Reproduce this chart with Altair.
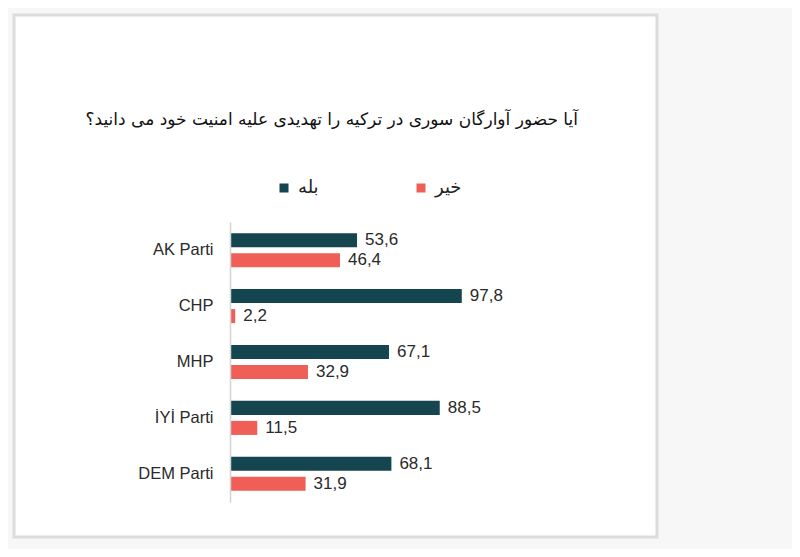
import altair as alt
import pandas as pd

parties = ["AK Parti", "CHP", "MHP", "İYİ Parti", "DEM Parti"]
yes_vals = [53.6, 97.8, 67.1, 88.5, 68.1]
no_vals = [46.4, 2.2, 32.9, 11.5, 31.9]
series = ["بله", "خیر"]
colors = ["#15454f", "#ef5f57"]
title_text = "آیا حضور آوارگان سوری در ترکیه را تهدیدی علیه امنیت خود می دانید؟"

rows = []
for p, yv, nv in zip(parties, yes_vals, no_vals):
    for s, v in zip(series, [yv, nv]):
        rows.append({"party": p, "series": s, "value": v,
                     "label": f"{v:.1f}".replace(".", ",")})
df = pd.DataFrame(rows)

base = alt.Chart(df).encode(
    x=alt.X("value:Q", scale=alt.Scale(domain=[0, 100]), axis=None),
    y=alt.Y("party:N", sort=parties,
            scale=alt.Scale(paddingInner=0.39, paddingOuter=0.2),
            axis=alt.Axis(title=None, ticks=False, domainColor="#d3d3d3",
                          domainWidth=1.5, labelFontSize=16.5, labelColor="#2a2a2a",
                          labelPadding=17, labelFont="Liberation Sans", zindex=1)),
    yOffset=alt.YOffset("series:N", sort=series, scale=alt.Scale(paddingInner=0.3)),
)

bars = base.mark_bar().encode(
    color=alt.Color("series:N", scale=alt.Scale(domain=series, range=colors),
                    legend=alt.Legend(title=None, orient="none", legendX=45, legendY=-43,
                                      direction="horizontal", symbolType="square",
                                      symbolSize=81, symbolStrokeWidth=0,
                                      labelFontSize=18, labelFont="DejaVu Sans",
                                      labelColor="#222222", columnPadding=93,
                                      labelOffset=5))
)

texts = base.mark_text(align="left", baseline="middle", dx=8, fontSize=17,
                       font="Liberation Sans", color="#2a2a2a").encode(text="label:N")

panel = alt.Chart(pd.DataFrame({"a": [0]})).mark_rect(
    fill="white", stroke="#dcdcdc", strokeWidth=3
).encode(x=alt.value(-216), x2=alt.value(427), y=alt.value(-207), y2=alt.value(315))

chart = alt.layer(panel, bars, texts).properties(
    width=237, height=280,
    title=alt.TitleParams(title_text, anchor="start", align="right", dx=348,
                          offset=0, dy=123, baseline="middle",
                          font="DejaVu Sans", fontSize=17,
                          fontWeight="normal", color="#111111", frame="group"),
    padding={"left": 222, "top": 214, "right": 325, "bottom": 47},
    autosize="none",
    background="#f8f7f7",
).configure_view(stroke=None)

chart.save("out.html", embed_options={"renderer": "svg", "actions": False})
